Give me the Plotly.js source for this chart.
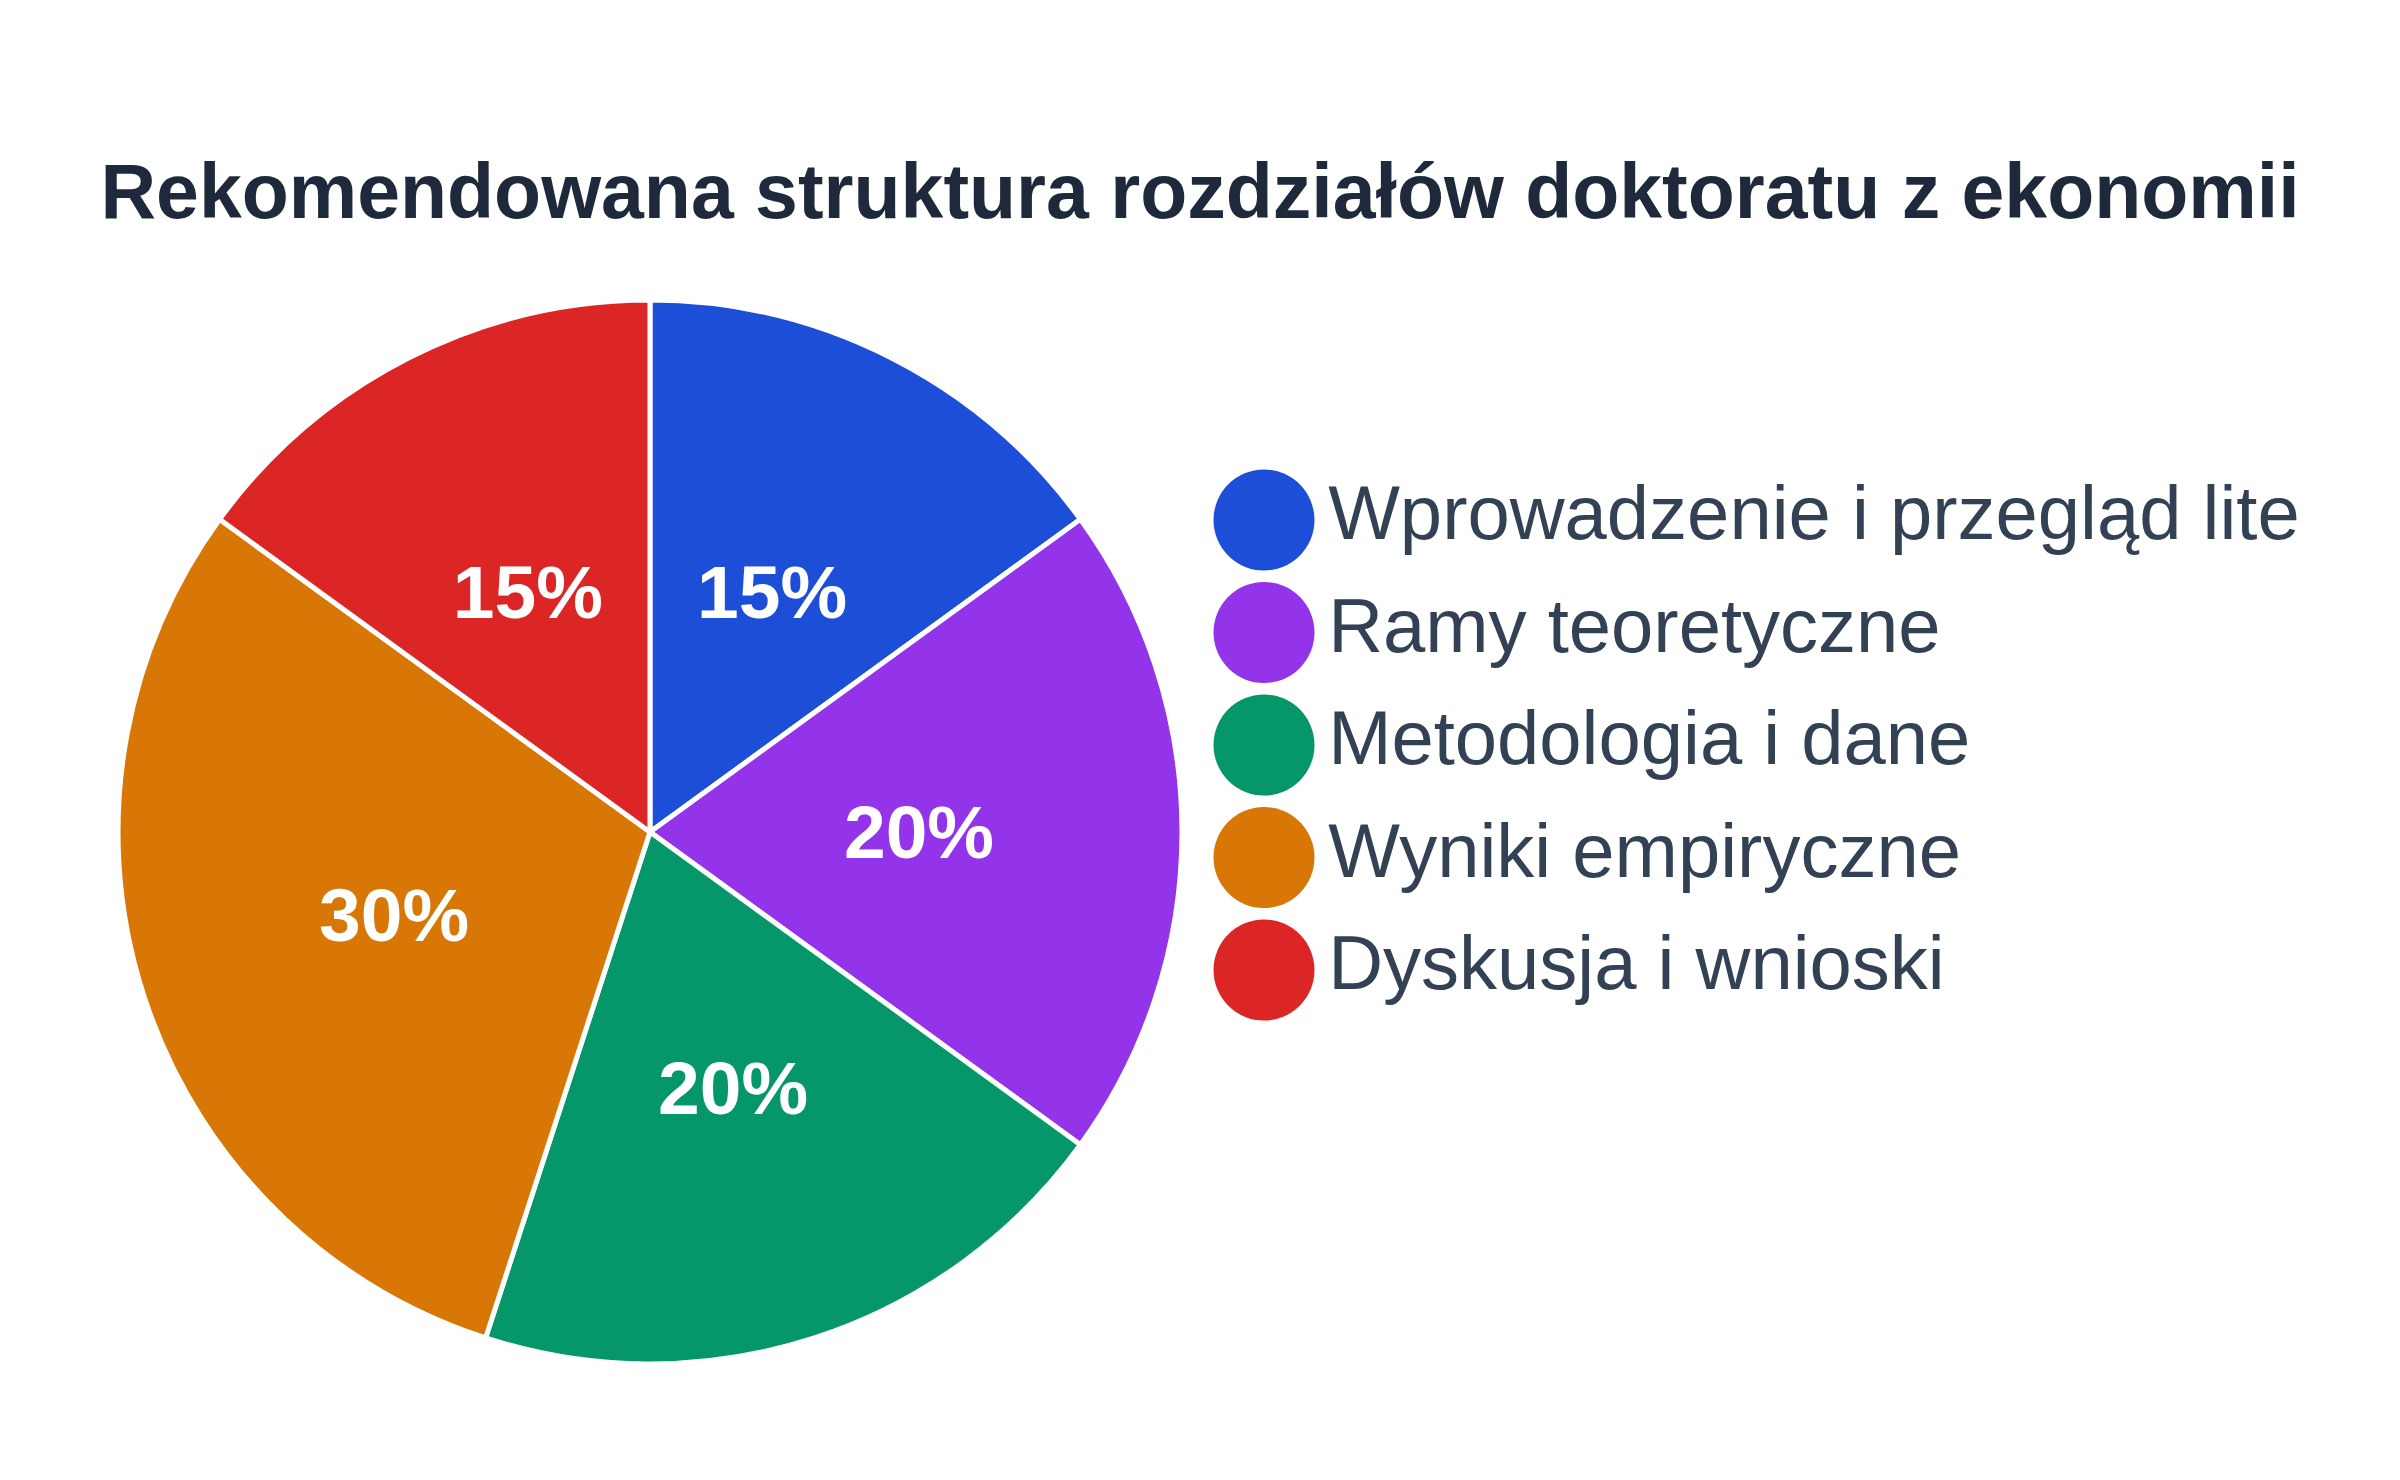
<!DOCTYPE html>
<html>
<head>
<meta charset="utf-8">
<script src="https://cdn.plot.ly/plotly-3.0.1.min.js"></script>
<style>
  html, body { margin: 0; padding: 0; background: #ffffff; }
  #chart { width: 2400px; height: 1480px; }
</style>
</head>
<body>
<div id="chart"></div>
<script>
// chapter shares
var chapters = ['Wprowadzenie i przegląd lite', 'Ramy teoretyczne', 'Metodologia i dane', 'Wyniki empiryczne', 'Dyskusja i wnioski'];
var shares = [15, 20, 20, 30, 15];
var colors = ['#1d4ed8', '#9333ea', '#059669', '#d97706', '#dc2626'];

var FONT = 'Liberation Sans, Arial, Helvetica, sans-serif';
var W = 2400, H = 1480;

// pie placement in px
var CX = 650, CY = 832, R = 532;

function pieDomain(r) {
  return {
    x: [(CX - r) / W, (CX + r) / W],
    y: [(H - CY - r) / H, (H - CY + r) / H]
  };
}

function drawChart() {
  var pie = {
    type: 'pie',
    labels: chapters,
    values: shares,
    sort: false,
    direction: 'clockwise',
    rotation: 0,
    textinfo: 'none',
    marker: { colors: colors, line: { color: '#ffffff', width: 5 } },
    domain: pieDomain(R),
    showlegend: false,
    hoverinfo: 'label+percent'
  };

  // transparent inner ring only to hold the percent labels at mid radius
  var labelRing = {
    type: 'pie',
    labels: chapters,
    values: shares,
    sort: false,
    direction: 'clockwise',
    rotation: 0,
    hole: 0.454,
    texttemplate: '%{percent:.0%}',
    textposition: 'inside',
    insidetextorientation: 'horizontal',
    insidetextfont: { family: FONT, size: 75, color: '#ffffff', weight: 700 },
    marker: { colors: colors.map(function () { return 'rgba(0,0,0,0)'; }), line: { width: 0 } },
    domain: pieDomain(370),
    showlegend: false,
    hoverinfo: 'skip'
  };

  // legend drawn as a column of round markers with labels
  var legend = {
    type: 'scatter',
    mode: 'markers+text',
    x: chapters.map(function () { return 0; }),
    y: chapters.map(function (c, i) { return i; }),
    text: chapters,
    textposition: 'middle right',
    textfont: { family: FONT, size: 76, color: '#334155' },
    marker: { size: 101, color: colors, line: { width: 0 } },
    cliponaxis: false,
    showlegend: false,
    hoverinfo: 'skip'
  };

  var layout = {
    width: W,
    height: H,
    margin: { l: 0, r: 0, t: 0, b: 0 },
    paper_bgcolor: '#ffffff',
    plot_bgcolor: 'rgba(0,0,0,0)',
    showlegend: false,
    title: {
      text: 'Rekomendowana struktura rozdziałów doktoratu z ekonomii',
      font: { family: FONT, size: 77, color: '#1e293b', weight: 700 },
      x: 0.5,
      xanchor: 'center',
      xref: 'paper',
      y: 0.871,
      yanchor: 'middle',
      yref: 'container'
    },
    xaxis: {
      domain: [0.5, 1.0],
      range: [-64, 1136],
      visible: false,
      fixedrange: true
    },
    yaxis: {
      domain: [0, 1],
      range: [8.533, -4.622],
      visible: false,
      fixedrange: true
    }
  };

  Plotly.newPlot('chart', [pie, labelRing, legend], layout, { staticPlot: true });
}

drawChart();
</script>
</body>
</html>
